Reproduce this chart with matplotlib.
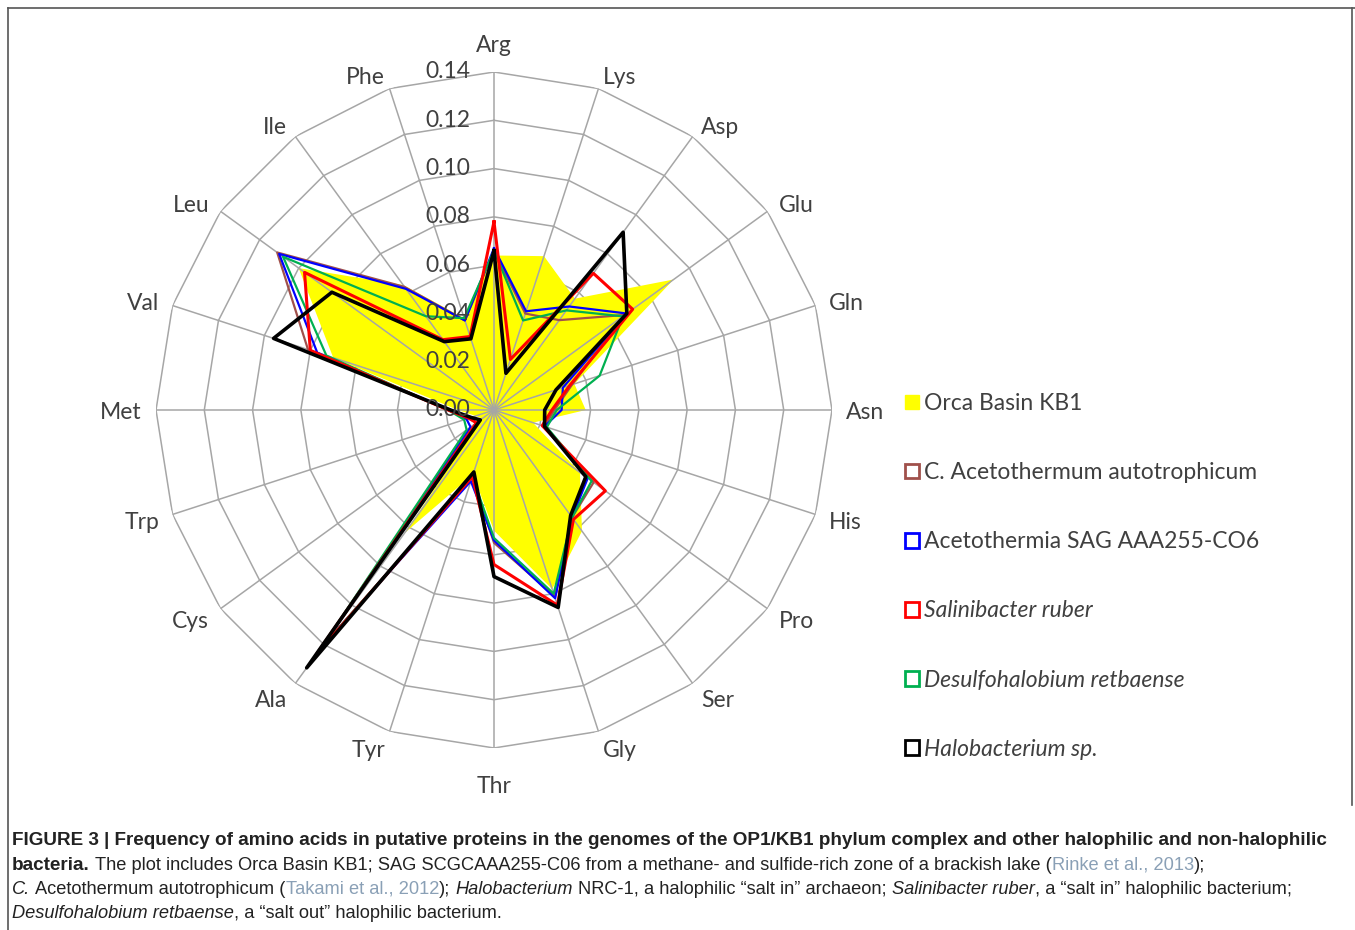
import numpy as np
import matplotlib
matplotlib.use('Agg')
import matplotlib.pyplot as plt
from matplotlib.patches import Patch
from matplotlib.lines import Line2D

categories = ['Arg', 'Lys', 'Asp', 'Glu', 'Gln', 'Asn', 'His', 'Pro', 'Ser', 'Gly',
              'Thr', 'Tyr', 'Ala', 'Cys', 'Trp', 'Met', 'Val', 'Leu', 'Ile', 'Phe']

orca_kb1 = [0.064, 0.067, 0.057, 0.092, 0.035, 0.038, 0.017, 0.044, 0.062, 0.078,
            0.050, 0.028, 0.063, 0.006, 0.008, 0.015, 0.070, 0.100, 0.064, 0.040]
acetothermum = [0.066, 0.042, 0.046, 0.067, 0.034, 0.025, 0.022, 0.051, 0.055, 0.081,
                0.055, 0.029, 0.121, 0.009, 0.011, 0.019, 0.081, 0.111, 0.063, 0.039]
acetothermia_sag = [0.067, 0.043, 0.053, 0.068, 0.030, 0.028, 0.022, 0.048, 0.055, 0.082,
                    0.054, 0.031, 0.121, 0.012, 0.012, 0.019, 0.077, 0.110, 0.062, 0.039]
salinibacter = [0.078, 0.022, 0.070, 0.071, 0.033, 0.024, 0.021, 0.057, 0.056, 0.085,
                0.064, 0.029, 0.125, 0.009, 0.011, 0.019, 0.080, 0.097, 0.036, 0.032]
desulfohalobium = [0.066, 0.039, 0.051, 0.066, 0.046, 0.026, 0.023, 0.050, 0.055, 0.080,
                   0.053, 0.029, 0.122, 0.014, 0.013, 0.019, 0.073, 0.108, 0.048, 0.040]
halobacterium = [0.066, 0.016, 0.091, 0.068, 0.027, 0.021, 0.022, 0.047, 0.054, 0.086,
                 0.069, 0.027, 0.132, 0.007, 0.010, 0.018, 0.096, 0.083, 0.035, 0.031]

r_ticks = [0.00, 0.02, 0.04, 0.06, 0.08, 0.10, 0.12, 0.14]

legend_labels = ['Orca Basin KB1', 'C. Acetothermum autotrophicum',
                 'Acetothermia SAG AAA255-CO6', 'Salinibacter ruber',
                 'Desulfohalobium retbaense', 'Halobacterium sp.']

W, H = 1355, 930
fig = plt.figure(figsize=(W / 100, H / 100), dpi=100)
plt.rcParams['font.family'] = ['Lato', 'DejaVu Sans']
FS = 16.5

# radar centre at (494, 410) px, radius 338 px for 0.14
cx, cy, rad = 494, 410, 338
ax = fig.add_axes([(cx - rad) / W, (H - cy - rad) / H, 2 * rad / W, 2 * rad / H],
                  projection='polar')
ax.set_theta_zero_location('N')
ax.set_theta_direction(-1)
ax.set_ylim(0, 0.14)
ax.grid(False)
ax.spines['polar'].set_visible(False)
ax.set_xticks([])
ax.set_yticks([])
ax.patch.set_alpha(0)

n = len(categories)
theta = np.arange(n) * 2 * np.pi / n
th_closed = np.append(theta, theta[0])


def closed(v):
    return np.append(v, v[0])


gridc = '#a6a6a6'
for r in r_ticks[1:]:
    ax.plot(th_closed, [r] * (n + 1), color=gridc, lw=1.1, zorder=1)

ax.fill(th_closed, closed(orca_kb1), color='#ffff00', lw=0, zorder=2)

for t in theta:
    ax.plot([t, t], [0, 0.14], color=gridc, lw=1.1, zorder=3)

series = [
    (acetothermum, '#a0504b', 1.6),
    (acetothermia_sag, '#0000ff', 1.6),
    (desulfohalobium, '#00b050', 1.6),
    (salinibacter, '#ff0000', 2.2),
    (halobacterium, '#000000', 2.6),
]
for vals, col, lw in series:
    ax.plot(th_closed, closed(vals), color=col, lw=lw, zorder=4)

txtc = '#404040'
for t, lab in zip(theta, categories):
    s, c = np.sin(t), np.cos(t)
    r_lab = 0.1458
    ha = 'left' if s > 0.1 else ('right' if s < -0.1 else 'center')
    va = 'center'
    if c > 0.99:
        va, r_lab = 'bottom', 0.1475
    elif c < -0.99:
        va, r_lab = 'top', 0.149
    dy = -1.5 - 2.8 * max(0.0, -c)
    ax.annotate(lab, xy=(t, r_lab), xytext=(0, dy), textcoords='offset points',
                ha=ha, va=va, fontsize=FS, color=txtc, annotation_clip=False)

for r in r_ticks:
    ax.annotate('%.2f' % r, xy=(0, r), xytext=(-17, 0), textcoords='offset points',
                ha='right', va='center', fontsize=FS, color=txtc, zorder=5,
                annotation_clip=False)

# legend
handles = [Patch(facecolor='#ffff00', edgecolor='#ffff00')]
for col in ['#a0504b', '#0000ff', '#ff0000', '#00b050', '#000000']:
    handles.append(Patch(facecolor='white', edgecolor=col, lw=2))
leg = fig.legend(handles, legend_labels, loc='upper left',
                 bbox_to_anchor=(905 / W, (H - 393) / H), frameon=False,
                 fontsize=FS, handlelength=0.61, handleheight=0.61,
                 handletextpad=0.22, labelspacing=2.10, borderpad=0,
                 borderaxespad=0, labelcolor=txtc)
for i in (3, 4, 5):
    leg.get_texts()[i].set_style('italic')

# frame lines around the figure panel (pixel coords from top-left)
framec = '#555555'
for xs, ys_ in [((8, 1356), (8, 8)), ((8, 8), (8, 931)), ((1352, 1352), (8, 805))]:
    fig.add_artist(Line2D([x / W for x in xs], [(H - y) / H for y in ys_],
                          transform=fig.transFigure, color=framec, lw=1.2))

# caption with mixed styles
cap_font = ['Liberation Sans Narrow', 'Liberation Sans', 'DejaVu Sans']
renderer = fig.canvas.get_renderer()
link = '#8aa0b6'


def width_of(s, **kw):
    t = fig.text(0, 0, s, family=cap_font, **kw)
    w = t.get_window_extent(renderer=renderer).width
    t.remove()
    return w


line1 = ('FIGURE 3 | Frequency of amino acids in putative proteins in the genomes of the '
         'OP1/KB1 phylum complex and other halophilic and non-halophilic')
line3 = ('C. Acetothermum autotrophicum (Takami et al., 2012); Halobacterium NRC-1, a '
         'halophilic \u201csalt in\u201d archaeon; Salinibacter ruber, a \u201csalt in\u201d '
         'halophilic bacterium;')
fs_b = 12 * 1306 / width_of(line1, fontsize=12, weight='bold')
fs_r = 12 * 1280 / width_of(line3, fontsize=12)
space = width_of('x x', fontsize=fs_r) - width_of('xx', fontsize=fs_r)

caption = [
    [(line1, {'weight': 'bold'})],
    [('bacteria.', {'weight': 'bold'}),
     (' The plot includes Orca Basin KB1; SAG SCGCAAA255-C06 from a methane- and '
      'sulfide-rich zone of a brackish lake (', {}),
     ('Rinke et al., 2013', {'color': link}), (');', {})],
    [('C.', {'style': 'italic'}), (' Acetothermum autotrophicum (', {}),
     ('Takami et al., 2012', {'color': link}), ('); ', {}),
     ('Halobacterium', {'style': 'italic'}),
     (' NRC-1, a halophilic \u201csalt in\u201d archaeon; ', {}),
     ('Salinibacter ruber', {'style': 'italic'}),
     (', a \u201csalt in\u201d halophilic bacterium;', {})],
    [('Desulfohalobium retbaense', {'style': 'italic'}),
     (', a \u201csalt out\u201d halophilic bacterium.', {})],
]
ys = [840, 865, 889, 913]
for parts, y in zip(caption, ys):
    x = 12.0
    for s, st in parts:
        lead = len(s) - len(s.lstrip(' '))
        trail = len(s) - len(s.rstrip(' '))
        core = s.strip(' ')
        x += lead * space
        kw = {'color': '#222222'}
        kw.update(st)
        size = fs_b if st.get('weight') == 'bold' else fs_r
        t = fig.text(x / W, (H - y) / H, core, family=cap_font, fontsize=size,
                     va='center', ha='left', **kw)
        x += t.get_window_extent(renderer=renderer).width + trail * space

fig.savefig('out.png', dpi=100)
